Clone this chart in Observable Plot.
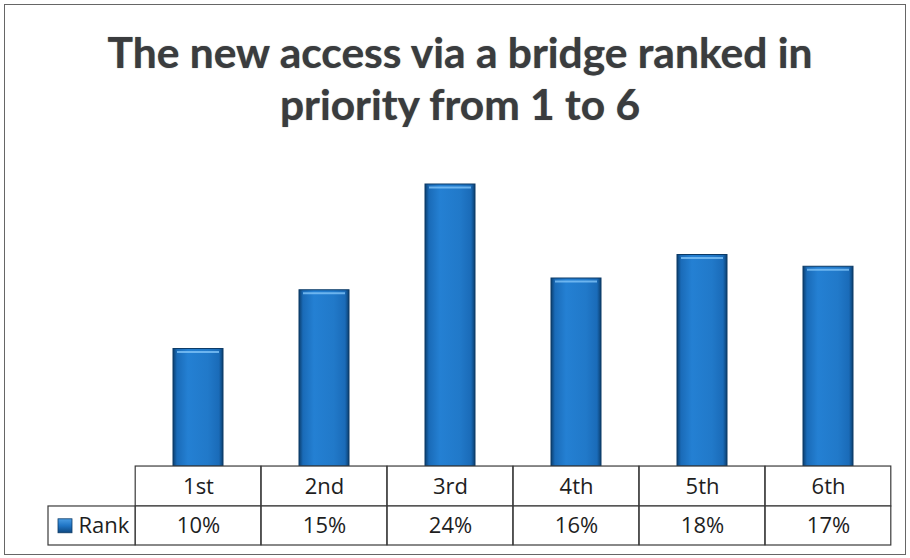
<!DOCTYPE html>
<html>
<head>
<meta charset="utf-8">
<script src="https://cdn.jsdelivr.net/npm/d3@7"></script>
<script src="https://cdn.jsdelivr.net/npm/@observablehq/plot@0.6"></script>
<style>
  html, body { margin: 0; padding: 0; background: #fff; }
  #wrap { position: relative; width: 910px; height: 558px; overflow: hidden; background: #fff; }
  #border { position: absolute; left: 4px; top: 4px; width: 902px; height: 551px; border: 1.5px solid #666; box-sizing: border-box; pointer-events: none; }
  #title { position: relative; height: 150px; box-sizing: border-box; padding-top: 26px; padding-left: 10px;
           font-family: Lato, "Open Sans", sans-serif; font-weight: 700; font-size: 42.5px; line-height: 52px;
           text-align: center; color: #3a3c3e; text-shadow: 0 0 1px #777; }
  #chart svg { display: block; }
</style>
</head>
<body>
<div id="wrap">
  <div id="title">The new access via a bridge ranked in<br>priority from 1 to 6</div>
  <div id="chart"></div>
  <div id="border"></div>
</div>
<script>
const categories = ["1st", "2nd", "3rd", "4th", "5th", "6th"];
const values = [10, 15, 24, 16, 18, 17];
const valueLabels = ["10%", "15%", "24%", "16%", "18%", "17%"];
const seriesName = "Rank";

const data = categories.map((c, i) => ({category: c, value: values[i], label: valueLabels[i]}));

// table layout (in y-scale units below the zero baseline)
const headerRow = [0, -3.4];
const valueRow = [-3.4, -6.72];
const tableStroke = "#3a3a3a";
const font = "'Open Sans', sans-serif";
const tableFontSize = 22;

const plot = Plot.plot({
  width: 910,
  height: 408,
  marginTop: 34,
  marginBottom: 13,
  marginLeft: 135,
  marginRight: 19,
  style: {fontFamily: font, background: "white", overflow: "visible"},
  x: {type: "band", domain: categories, paddingInner: 0.6, paddingOuter: 0.3, axis: null},
  y: {domain: [valueRow[1], d3.max(values)], axis: null},
  marks: [
    // bars
    Plot.barY(data, {x: "category", y1: 0, y2: "value", fill: "url(#barGrad)", stroke: "#0c3a66", strokeWidth: 1}),
    Plot.tickY(data, {x: "category", y: "value", stroke: "#7fc3f7", strokeWidth: 2, insetLeft: 4, insetRight: 4, dy: 3, strokeOpacity: 0.8}),
    // data table: header row
    Plot.barY(categories, {x: d => d, y1: headerRow[0], y2: headerRow[1], insetLeft: -37.8, insetRight: -37.8, fill: "white", stroke: tableStroke, strokeWidth: 1.2}),
    // data table: value row
    Plot.barY(categories, {x: d => d, y1: valueRow[0], y2: valueRow[1], insetLeft: -37.8, insetRight: -37.8, fill: "white", stroke: tableStroke, strokeWidth: 1.2}),
    // legend cell
    Plot.barY([seriesName], {y1: valueRow[0], y2: valueRow[1], insetLeft: -87, insetRight: 756, fill: "white", stroke: tableStroke, strokeWidth: 1.2}),
    Plot.barY([seriesName], {y1: -4.49, y2: -5.68, insetLeft: -77, insetRight: 819, fill: "url(#swGrad)", stroke: "#0c3a66", strokeWidth: 0.8}),
    Plot.text([seriesName], {text: d => d, frameAnchor: "bottom-left", lineAnchor: "middle", dx: -57, dy: -20, textAnchor: "start", fontSize: tableFontSize, fill: "#1e1e1e"}),
    // table text
    Plot.text(data, {x: "category", y: d => (headerRow[0] + headerRow[1]) / 2, text: "category", fontSize: tableFontSize, fill: "#1e1e1e"}),
    Plot.text(data, {x: "category", y: d => (valueRow[0] + valueRow[1]) / 2, text: "label", fontSize: tableFontSize, fill: "#1e1e1e"})
  ]
});

// gradients for the bevelled bars
const svg = d3.select(plot);
const defs = svg.insert("defs", ":first-child");
const g = defs.append("linearGradient").attr("id", "barGrad").attr("x1", "0").attr("x2", "1").attr("y1", "0").attr("y2", "0");
[[0, "#0b3f70"], [0.08, "#1a6bb8"], [0.3, "#2480d3"], [0.7, "#2179c9"], [0.92, "#1a6bb8"], [1, "#0b3f70"]]
  .forEach(([o, c]) => g.append("stop").attr("offset", o).attr("stop-color", c));
const s = defs.append("linearGradient").attr("id", "swGrad").attr("x1", "0").attr("x2", "0").attr("y1", "0").attr("y2", "1");
[[0, "#4a9de4"], [0.5, "#1f74c4"], [1, "#0e4880"]]
  .forEach(([o, c]) => s.append("stop").attr("offset", o).attr("stop-color", c));

document.getElementById("chart").appendChild(plot);
</script>
</body>
</html>
